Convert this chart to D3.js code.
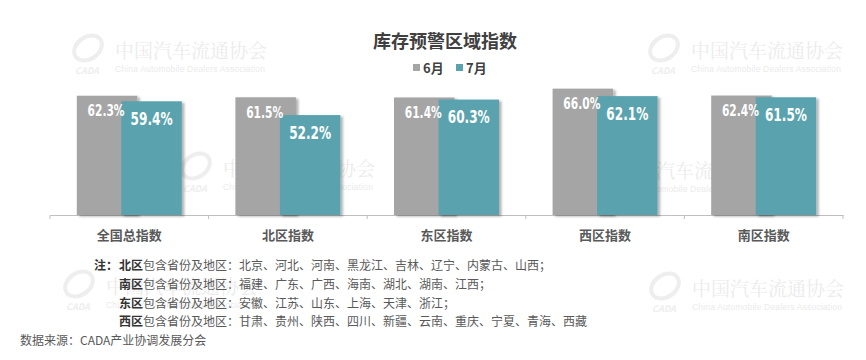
<!DOCTYPE html>
<html><head><meta charset="utf-8">
<script src="https://cdn.jsdelivr.net/npm/d3@7"></script>
<style>
body{margin:0;background:#fff;}
svg{display:block;font-family:"Noto Sans CJK SC","Noto Sans",sans-serif;}
</style></head>
<body>
<svg id="chart" width="866" height="360"></svg>
<script>
const title = "库存预警区域指数";
const categories = ["全国总指数","北区指数","东区指数","西区指数","南区指数"];
const seriesNames = ["6月","7月"];
const june = [62.3, 61.5, 61.4, 66.0, 62.4];
const july = [59.4, 52.2, 60.3, 62.1, 61.5];
const colors = ["#A5A5A5","#5AA3AE"];
const notes = [
  ["北区","包含省份及地区：北京、河北、河南、黑龙江、吉林、辽宁、内蒙古、山西；"],
  ["南区","包含省份及地区：福建、广东、广西、海南、湖北、湖南、江西；"],
  ["东区","包含省份及地区：安徽、江苏、山东、上海、天津、浙江；"],
  ["西区","包含省份及地区：甘肃、贵州、陕西、四川、新疆、云南、重庆、宁夏、青海、西藏"]
];
const source = "数据来源：CADA产业协调发展分会";

const svg = d3.select("#chart");
const defs = svg.append("defs");
const f = defs.append("filter").attr("id","sh").attr("x","-10%").attr("y","-10%").attr("width","130%").attr("height","130%");
f.append("feDropShadow").attr("dx",2.5).attr("dy",1.5).attr("stdDeviation",1.2).attr("flood-color","#000").attr("flood-opacity",0.3);

// watermarks
const wm = [[115,52],[691,52],[223,170],[618,172],[106,288],[692,290]];
const wg = svg.append("g").attr("fill","#ebebeb");
wm.forEach(([x,y])=>{
  wg.append("ellipse").attr("cx",x-27).attr("cy",y-4).attr("rx",15).attr("ry",11)
    .attr("fill","none").attr("stroke","#eeeeee").attr("stroke-width",4).attr("transform",`rotate(-35 ${x-27} ${y-4})`);
  wg.append("text").attr("x",x-40).attr("y",y+22).attr("font-size",9).attr("font-style","italic").attr("font-weight","bold").attr("fill","#eeeeee").text("CADA");
  wg.append("text").attr("x",x).attr("y",y+6).attr("font-size",19).attr("font-family","'Noto Serif CJK SC','Noto Sans CJK SC',serif").attr("textLength",152).text("中国汽车流通协会");
  wg.append("text").attr("x",x).attr("y",y+20).attr("font-size",8.5).attr("font-family","Liberation Sans, Arial").attr("textLength",150).text("China Automobile Dealers Association");
});

const x0 = d3.scaleBand().domain(categories).range([50,843]).padding(0);
const y = d3.scaleLinear().domain([0,70]).range([215,81]);
const bw = 60.5, overlap = 16;

// axis
const ax = svg.append("g").attr("transform","translate(0,215)")
  .call(d3.axisBottom(x0).tickSize(0).tickFormat(""));
ax.select(".domain").attr("stroke","#bfbfbf").attr("stroke-width",1.2);
const ticks = categories.map(c=>x0(c)).concat([x0(categories[categories.length-1])+x0.bandwidth()]);
svg.append("g").selectAll("line").data(ticks).join("line")
  .attr("x1",d=>d).attr("x2",d=>d).attr("y1",215).attr("y2",219).attr("stroke","#bfbfbf");

const groupW = 2*bw - overlap;
const gx = c => x0(c) + x0.bandwidth()/2 - groupW/2;

const bars = svg.append("g");
const data = [june, july];
data.forEach((vals,si)=>{
  bars.selectAll(".b"+si).data(categories).join("rect")
    .attr("x",c=>gx(c)+si*(bw-overlap))
    .attr("y",(c,i)=>y(vals[i]))
    .attr("width",bw)
    .attr("height",(c,i)=>y(0)-y(vals[i]))
    .attr("fill",colors[si])
    .attr("filter","url(#sh)");
});

// labels
const lf = "'DejaVu Sans Condensed','DejaVu Sans',sans-serif";
svg.append("g").selectAll("text").data(categories).join("text")
  .attr("x",c=>gx(c)+bw/2-1).attr("y",(c,i)=>y(june[i])+20.7)
  .attr("text-anchor","middle").attr("fill","#fff").attr("font-weight","bold")
  .attr("font-family",lf).attr("font-size",15.5)
  .attr("textLength",37).attr("lengthAdjust","spacingAndGlyphs")
  .text((c,i)=>june[i].toFixed(1)+"%");
svg.append("g").selectAll("text").data(categories).join("text")
  .attr("x",c=>gx(c)+(bw-overlap)+bw/2).attr("y",(c,i)=>y(july[i])+23.8)
  .attr("text-anchor","middle").attr("fill","#fff").attr("font-weight","bold")
  .attr("font-family",lf).attr("font-size",18)
  .attr("textLength",42).attr("lengthAdjust","spacingAndGlyphs")
  .text((c,i)=>july[i].toFixed(1)+"%");

// category labels
svg.append("g").selectAll("text").data(categories).join("text")
  .attr("x",c=>x0(c)+x0.bandwidth()/2).attr("y",240)
  .attr("text-anchor","middle").attr("font-size",13).attr("font-weight","bold").attr("fill","#595959")
  .text(d=>d);

// title
svg.append("text").attr("x",445).attr("y",48).attr("text-anchor","middle")
  .attr("font-size",18).attr("font-weight","bold").attr("fill","#404040").text(title);

// legend
const lg = svg.append("g");
const legX = [413, 456];
seriesNames.forEach((n,i)=>{
  lg.append("rect").attr("x",legX[i]).attr("y",64).attr("width",7).attr("height",7).attr("fill",colors[i]);
  lg.append("text").attr("x",legX[i]+10).attr("y",72.5).attr("font-size",13).attr("font-weight","bold").attr("fill","#404040").text(n);
});

// notes
const ng = svg.append("g").attr("font-size",12).attr("fill","#595959");
ng.append("text").attr("x",94).attr("y",270).attr("font-weight","bold").attr("fill","#333333").text("注：");
notes.forEach((n,i)=>{
  const t = ng.append("text").attr("x",119).attr("y",270+i*18.8);
  t.append("tspan").attr("font-weight","bold").attr("fill","#333333").text(n[0]);
  t.append("tspan").text(n[1]);
});
svg.append("text").attr("x",20).attr("y",345).attr("font-size",12).attr("fill","#595959").text(source);
</script>
</body></html>
